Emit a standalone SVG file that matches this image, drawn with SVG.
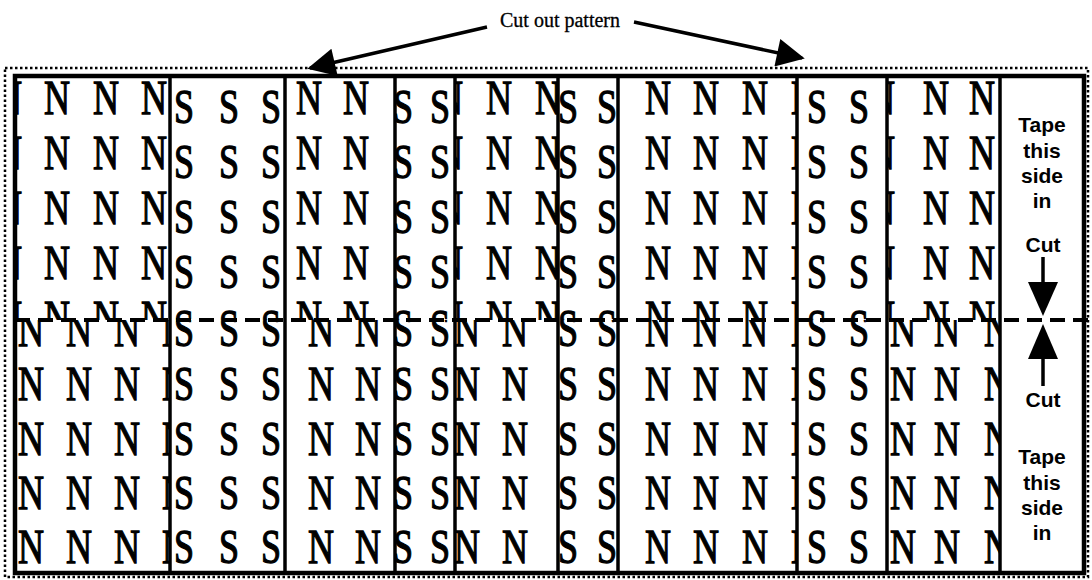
<svg xmlns="http://www.w3.org/2000/svg" width="1092" height="580" viewBox="0 0 1092 580">
<style>
.L{font-family:"Liberation Serif","Times New Roman",serif;font-size:48px;fill:#000;stroke:#000;stroke-width:1.3;text-anchor:middle}
.T{font-family:"Liberation Sans",Arial,sans-serif;font-size:21px;font-weight:bold;fill:#000;text-anchor:middle}
.div{stroke:#000;stroke-width:3.5;fill:none}
</style>
<defs>
<marker id="ah" viewBox="0 0 10 10" refX="9" refY="5" markerWidth="10" markerHeight="8" markerUnits="strokeWidth" orient="auto"><path d="M0,0 L10,5 L0,10 z" fill="#000"/></marker>
<clipPath id="c1t"><rect x="15" y="77" width="155" height="243"/></clipPath>
<clipPath id="c1b"><rect x="15" y="320" width="155" height="252"/></clipPath>
<clipPath id="c2t"><rect x="170" y="77" width="115" height="243"/></clipPath>
<clipPath id="c2b"><rect x="170" y="320" width="115" height="252"/></clipPath>
<clipPath id="c3t"><rect x="285" y="77" width="110" height="243"/></clipPath>
<clipPath id="c3b"><rect x="285" y="320" width="110" height="252"/></clipPath>
<clipPath id="c4t"><rect x="395" y="77" width="60" height="243"/></clipPath>
<clipPath id="c4b"><rect x="395" y="320" width="60" height="252"/></clipPath>
<clipPath id="c5t"><rect x="455" y="77" width="103" height="243"/></clipPath>
<clipPath id="c5b"><rect x="455" y="320" width="103" height="252"/></clipPath>
<clipPath id="c6t"><rect x="558" y="77" width="60" height="243"/></clipPath>
<clipPath id="c6b"><rect x="558" y="320" width="60" height="252"/></clipPath>
<clipPath id="c7t"><rect x="618" y="77" width="179" height="243"/></clipPath>
<clipPath id="c7b"><rect x="618" y="320" width="179" height="252"/></clipPath>
<clipPath id="c8t"><rect x="797" y="77" width="90" height="243"/></clipPath>
<clipPath id="c8b"><rect x="797" y="320" width="90" height="252"/></clipPath>
<clipPath id="c9t"><rect x="887" y="77" width="113" height="243"/></clipPath>
<clipPath id="c9b"><rect x="887" y="320" width="113" height="252"/></clipPath>
</defs>
<rect width="1092" height="580" fill="#fff"/>

<text id="title" x="560" y="27" style="font-family:'Liberation Serif','Times New Roman',serif;font-size:20px;text-anchor:middle;stroke:#000;stroke-width:0.3">Cut out pattern</text>

<rect id="dotted-border" x="5" y="68" width="1083" height="509" fill="none" stroke="#000" stroke-width="2.5" stroke-dasharray="2.5 2.5"/>

<g id="strip1">
<g clip-path="url(#c1t)"><g transform="scale(0.75 1)">
<text class="L" x="12 76 141.33 205.33" y="114">NNNN</text>
<text class="L" x="12 76 141.33 205.33" y="169">NNNN</text>
<text class="L" x="12 76 141.33 205.33" y="224">NNNN</text>
<text class="L" x="12 76 141.33 205.33" y="279">NNNN</text>
<text class="L" x="12 76 141.33 205.33" y="334">NNNN</text>
</g></g>
<g clip-path="url(#c1b)"><g transform="scale(0.75 1)">
<text class="L" x="41.33 105.33 169.33 233.33" y="346">NNNN</text>
<text class="L" x="41.33 105.33 169.33 233.33" y="400">NNNN</text>
<text class="L" x="41.33 105.33 169.33 233.33" y="455">NNNN</text>
<text class="L" x="41.33 105.33 169.33 233.33" y="509">NNNN</text>
<text class="L" x="41.33 105.33 169.33 233.33" y="563">NNNN</text>
</g></g>
</g>

<g id="strip2">
<g clip-path="url(#c2t)"><g transform="scale(0.75 1)">
<text class="L" x="245.33 305.33 361.33" y="123">SSS</text>
<text class="L" x="245.33 305.33 361.33" y="178">SSS</text>
<text class="L" x="245.33 305.33 361.33" y="233">SSS</text>
<text class="L" x="245.33 305.33 361.33" y="288">SSS</text>
<text class="L" x="245.33 305.33 361.33" y="343">SSS</text>
</g></g>
<g clip-path="url(#c2b)"><g transform="scale(0.75 1)">
<text class="L" x="245.33 305.33 361.33" y="346">SSS</text>
<text class="L" x="245.33 305.33 361.33" y="400">SSS</text>
<text class="L" x="245.33 305.33 361.33" y="455">SSS</text>
<text class="L" x="245.33 305.33 361.33" y="509">SSS</text>
<text class="L" x="245.33 305.33 361.33" y="563">SSS</text>
</g></g>
</g>

<g id="strip3">
<g clip-path="url(#c3t)"><g transform="scale(0.75 1)">
<text class="L" x="412 474.67" y="114">NN</text>
<text class="L" x="412 474.67" y="169">NN</text>
<text class="L" x="412 474.67" y="224">NN</text>
<text class="L" x="412 474.67" y="279">NN</text>
<text class="L" x="412 474.67" y="334">NN</text>
</g></g>
<g clip-path="url(#c3b)"><g transform="scale(0.75 1)">
<text class="L" x="428 490.67" y="346">NN</text>
<text class="L" x="428 490.67" y="400">NN</text>
<text class="L" x="428 490.67" y="455">NN</text>
<text class="L" x="428 490.67" y="509">NN</text>
<text class="L" x="428 490.67" y="563">NN</text>
</g></g>
</g>

<g id="strip4">
<g clip-path="url(#c4t)"><g transform="scale(0.75 1)">
<text class="L" x="537.33 586.67" y="123">SS</text>
<text class="L" x="537.33 586.67" y="178">SS</text>
<text class="L" x="537.33 586.67" y="233">SS</text>
<text class="L" x="537.33 586.67" y="288">SS</text>
<text class="L" x="537.33 586.67" y="343">SS</text>
</g></g>
<g clip-path="url(#c4b)"><g transform="scale(0.75 1)">
<text class="L" x="537.33 586.67" y="346">SS</text>
<text class="L" x="537.33 586.67" y="400">SS</text>
<text class="L" x="537.33 586.67" y="455">SS</text>
<text class="L" x="537.33 586.67" y="509">SS</text>
<text class="L" x="537.33 586.67" y="563">SS</text>
</g></g>
</g>

<g id="strip5">
<g clip-path="url(#c5t)"><g transform="scale(0.75 1)">
<text class="L" x="600 665.33 730.67" y="114">NNN</text>
<text class="L" x="600 665.33 730.67" y="169">NNN</text>
<text class="L" x="600 665.33 730.67" y="224">NNN</text>
<text class="L" x="600 665.33 730.67" y="279">NNN</text>
<text class="L" x="600 665.33 730.67" y="334">NNN</text>
</g></g>
<g clip-path="url(#c5b)"><g transform="scale(0.75 1)">
<text class="L" x="622.67 686.67" y="346">NN</text>
<text class="L" x="622.67 686.67" y="400">NN</text>
<text class="L" x="622.67 686.67" y="455">NN</text>
<text class="L" x="622.67 686.67" y="509">NN</text>
<text class="L" x="622.67 686.67" y="563">NN</text>
</g></g>
</g>

<g id="strip6">
<g clip-path="url(#c6t)"><g transform="scale(0.75 1)">
<text class="L" x="757.33 809.33" y="123">SS</text>
<text class="L" x="757.33 809.33" y="178">SS</text>
<text class="L" x="757.33 809.33" y="233">SS</text>
<text class="L" x="757.33 809.33" y="288">SS</text>
<text class="L" x="757.33 809.33" y="343">SS</text>
</g></g>
<g clip-path="url(#c6b)"><g transform="scale(0.75 1)">
<text class="L" x="757.33 809.33" y="346">SS</text>
<text class="L" x="757.33 809.33" y="400">SS</text>
<text class="L" x="757.33 809.33" y="455">SS</text>
<text class="L" x="757.33 809.33" y="509">SS</text>
<text class="L" x="757.33 809.33" y="563">SS</text>
</g></g>
</g>

<g id="strip7">
<g clip-path="url(#c7t)"><g transform="scale(0.75 1)">
<text class="L" x="877.33 941.33 1006.67 1072" y="114">NNNN</text>
<text class="L" x="877.33 941.33 1006.67 1072" y="169">NNNN</text>
<text class="L" x="877.33 941.33 1006.67 1072" y="224">NNNN</text>
<text class="L" x="877.33 941.33 1006.67 1072" y="279">NNNN</text>
<text class="L" x="877.33 941.33 1006.67 1072" y="334">NNNN</text>
</g></g>
<g clip-path="url(#c7b)"><g transform="scale(0.75 1)">
<text class="L" x="877.33 941.33 1006.67 1072" y="346">NNNN</text>
<text class="L" x="877.33 941.33 1006.67 1072" y="400">NNNN</text>
<text class="L" x="877.33 941.33 1006.67 1072" y="455">NNNN</text>
<text class="L" x="877.33 941.33 1006.67 1072" y="509">NNNN</text>
<text class="L" x="877.33 941.33 1006.67 1072" y="563">NNNN</text>
</g></g>
</g>

<g id="strip8">
<g clip-path="url(#c8t)"><g transform="scale(0.75 1)">
<text class="L" x="1089.33 1145.33" y="123">SS</text>
<text class="L" x="1089.33 1145.33" y="178">SS</text>
<text class="L" x="1089.33 1145.33" y="233">SS</text>
<text class="L" x="1089.33 1145.33" y="288">SS</text>
<text class="L" x="1089.33 1145.33" y="343">SS</text>
</g></g>
<g clip-path="url(#c8b)"><g transform="scale(0.75 1)">
<text class="L" x="1089.33 1145.33" y="346">SS</text>
<text class="L" x="1089.33 1145.33" y="400">SS</text>
<text class="L" x="1089.33 1145.33" y="455">SS</text>
<text class="L" x="1089.33 1145.33" y="509">SS</text>
<text class="L" x="1089.33 1145.33" y="563">SS</text>
</g></g>
</g>

<g id="strip9">
<g clip-path="url(#c9t)"><g transform="scale(0.75 1)">
<text class="L" x="1176 1248 1309.33" y="114">NNN</text>
<text class="L" x="1176 1248 1309.33" y="169">NNN</text>
<text class="L" x="1176 1248 1309.33" y="224">NNN</text>
<text class="L" x="1176 1248 1309.33" y="279">NNN</text>
<text class="L" x="1176 1248 1309.33" y="334">NNN</text>
</g></g>
<g clip-path="url(#c9b)"><g transform="scale(0.75 1)">
<text class="L" x="1204 1262.67 1329.33" y="346">NNN</text>
<text class="L" x="1204 1262.67 1329.33" y="400">NNN</text>
<text class="L" x="1204 1262.67 1329.33" y="455">NNN</text>
<text class="L" x="1204 1262.67 1329.33" y="509">NNN</text>
<text class="L" x="1204 1262.67 1329.33" y="563">NNN</text>
</g></g>
</g>

<g id="tape">
<text class="T" x="1042" y="132">Tape</text>
<text class="T" x="1042" y="158">this</text>
<text class="T" x="1042" y="183">side</text>
<text class="T" x="1042" y="208">in</text>
<text class="T" x="1043" y="252">Cut</text>
<line x1="1043" y1="257" x2="1043" y2="284" stroke="#000" stroke-width="3.5"/>
<path d="M1028,282 L1058,282 L1043,316 z" fill="#000"/>
<path d="M1043,324 L1058,359 L1028,359 z" fill="#000"/>
<line x1="1043" y1="357" x2="1043" y2="386" stroke="#000" stroke-width="3.5"/>
<text class="T" x="1043" y="407">Cut</text>
<text class="T" x="1042" y="464">Tape</text>
<text class="T" x="1042" y="490">this</text>
<text class="T" x="1042" y="515">side</text>
<text class="T" x="1042" y="540">in</text>
</g>

<g id="frame">
<rect x="15" y="76" width="1069" height="497" fill="none" stroke="#000" stroke-width="4.5"/>
<line class="div" x1="170" y1="76" x2="170" y2="573"/>
<line class="div" x1="285" y1="76" x2="285" y2="573"/>
<line class="div" x1="395" y1="76" x2="395" y2="573"/>
<line class="div" x1="455" y1="76" x2="455" y2="573"/>
<line class="div" x1="558" y1="76" x2="558" y2="573"/>
<line class="div" x1="618" y1="76" x2="618" y2="573"/>
<line class="div" x1="797" y1="76" x2="797" y2="573"/>
<line class="div" x1="887" y1="76" x2="887" y2="573"/>
<line class="div" x1="1000" y1="76" x2="1000" y2="573"/>
</g>

<g id="connectors" stroke="#000" fill="none">
<line x1="15" y1="320" x2="1092" y2="320" stroke-width="4" stroke-dasharray="15 8"/>
<line x1="487" y1="27" x2="310" y2="68" stroke-width="3.5" marker-end="url(#ah)"/>
<line x1="634" y1="22" x2="802" y2="58" stroke-width="3.5" marker-end="url(#ah)"/>
</g>
</svg>
